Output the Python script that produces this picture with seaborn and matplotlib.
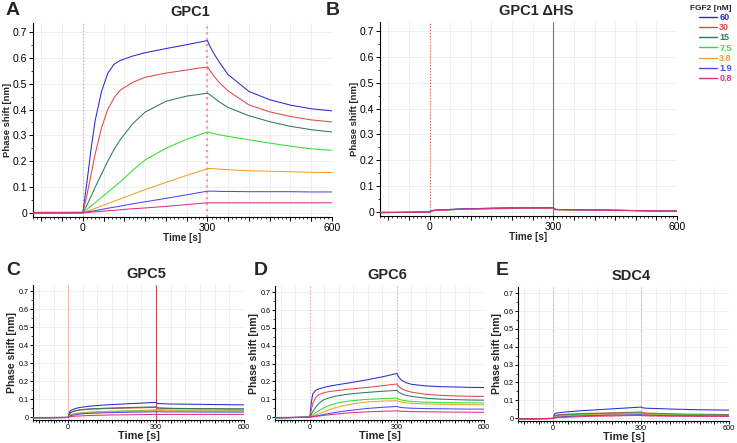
import numpy as np
import pandas as pd
import matplotlib
matplotlib.use("Agg")
import matplotlib.pyplot as plt
import matplotlib.ticker as mticker
from matplotlib.lines import Line2D
import seaborn as sns

# time grid shared by all sensorgrams (s)
time_s = [-120, -60, 0, 5, 10, 20, 30, 45, 60, 75, 90, 120, 150, 200, 250, 300,
          305, 315, 330, 350, 400, 450, 500, 550, 600]

conc_labels = ["60", "30", "15", "7.5", "3.8", "1.9", "0.8"]
conc_colors = ["#2b2bd0", "#e04848", "#2f7a5c", "#33dd33", "#f0a030", "#4a4af0", "#e0307a"]

# GPC1
gpc1 = {
    "60":  [0.002, 0.002, 0.002, 0.06, 0.12, 0.25, 0.36, 0.47, 0.54, 0.575, 0.59, 0.607, 0.62, 0.636, 0.651, 0.667,
            0.648, 0.618, 0.58, 0.535, 0.47, 0.438, 0.417, 0.403, 0.395],
    "30":  [0.001, 0.001, 0.002, 0.035, 0.07, 0.15, 0.23, 0.33, 0.40, 0.445, 0.475, 0.505, 0.525, 0.541, 0.553, 0.565,
            0.554, 0.53, 0.502, 0.472, 0.418, 0.391, 0.373, 0.36, 0.352],
    "15":  [0.0, 0.0, 0.001, 0.015, 0.03, 0.065, 0.10, 0.15, 0.20, 0.245, 0.283, 0.345, 0.39, 0.432, 0.452, 0.463,
            0.459, 0.446, 0.428, 0.408, 0.376, 0.353, 0.335, 0.322, 0.313],
    "7.5": [-0.003, -0.002, 0.0, 0.007, 0.013, 0.027, 0.04, 0.06, 0.08, 0.10, 0.12, 0.165, 0.205, 0.25, 0.285, 0.313,
            0.311, 0.307, 0.302, 0.296, 0.283, 0.27, 0.258, 0.248, 0.242],
    "3.8": [0.001, 0.001, 0.0, 0.003, 0.006, 0.012, 0.018, 0.027, 0.036, 0.045, 0.054, 0.072, 0.09, 0.118, 0.145, 0.171,
            0.172, 0.171, 0.169, 0.167, 0.163, 0.161, 0.159, 0.157, 0.156],
    "1.9": [0.0, 0.0, 0.0, 0.002, 0.003, 0.006, 0.009, 0.013, 0.018, 0.022, 0.026, 0.035, 0.043, 0.056, 0.07, 0.084,
            0.084, 0.084, 0.083, 0.083, 0.082, 0.082, 0.082, 0.081, 0.081],
    "0.8": [0.001, 0.001, 0.0, 0.001, 0.001, 0.003, 0.004, 0.006, 0.008, 0.010, 0.012, 0.016, 0.019, 0.025, 0.032, 0.039,
            0.039, 0.039, 0.039, 0.039, 0.039, 0.039, 0.039, 0.039, 0.039],
}

# GPC1 dHS
gpc1_dhs = {
    "60":  [-0.003, -0.002, 0.0, 0.005, 0.006, 0.007, 0.008, 0.009, 0.010, 0.011, 0.012, 0.013, 0.014, 0.015, 0.015, 0.017,
            0.010, 0.009, 0.009, 0.008, 0.007, 0.006, 0.005, 0.004, 0.004],
    "30":  [-0.003, -0.002, -0.001, 0.004, 0.005, 0.006, 0.007, 0.008, 0.009, 0.010, 0.011, 0.012, 0.013, 0.014, 0.014, 0.015,
            0.009, 0.009, 0.008, 0.008, 0.007, 0.006, 0.005, 0.004, 0.004],
    "15":  [-0.002, -0.002, 0.0, 0.004, 0.005, 0.006, 0.007, 0.008, 0.009, 0.010, 0.011, 0.012, 0.013, 0.014, 0.014, 0.015,
            0.009, 0.008, 0.008, 0.007, 0.006, 0.006, 0.005, 0.004, 0.004],
    "7.5": [-0.002, -0.002, 0.0, 0.004, 0.005, 0.006, 0.007, 0.008, 0.009, 0.010, 0.011, 0.012, 0.012, 0.013, 0.014, 0.014,
            0.009, 0.008, 0.008, 0.007, 0.006, 0.005, 0.005, 0.004, 0.004],
    "3.8": [-0.002, -0.002, 0.0, 0.004, 0.005, 0.006, 0.007, 0.008, 0.009, 0.010, 0.010, 0.011, 0.012, 0.013, 0.014, 0.014,
            0.008, 0.008, 0.007, 0.007, 0.006, 0.005, 0.005, 0.004, 0.004],
    "1.9": [-0.002, -0.002, 0.0, 0.005, 0.006, 0.007, 0.008, 0.009, 0.010, 0.011, 0.012, 0.013, 0.014, 0.015, 0.016, 0.016,
            0.010, 0.009, 0.009, 0.008, 0.007, 0.006, 0.005, 0.004, 0.004],
    "0.8": [-0.003, -0.002, -0.001, 0.004, 0.005, 0.006, 0.007, 0.008, 0.009, 0.010, 0.011, 0.012, 0.013, 0.014, 0.015, 0.015,
            0.009, 0.009, 0.008, 0.008, 0.007, 0.006, 0.005, 0.004, 0.003],
}

# GPC5
gpc5 = {
    "60":  [-0.005, -0.004, -0.002, 0.03, 0.038, 0.045, 0.05, 0.055, 0.058, 0.061, 0.063, 0.067, 0.07, 0.074, 0.078, 0.082,
            0.076, 0.075, 0.074, 0.073, 0.072, 0.071, 0.070, 0.069, 0.068],
    "30":  [-0.004, -0.003, -0.002, 0.018, 0.025, 0.032, 0.036, 0.040, 0.042, 0.044, 0.045, 0.047, 0.048, 0.050, 0.052, 0.054,
            0.050, 0.049, 0.049, 0.048, 0.047, 0.046, 0.046, 0.045, 0.045],
    "15":  [-0.004, -0.003, -0.002, 0.02, 0.027, 0.034, 0.038, 0.042, 0.044, 0.046, 0.047, 0.049, 0.051, 0.053, 0.055, 0.057,
            0.052, 0.051, 0.050, 0.049, 0.048, 0.047, 0.047, 0.046, 0.046],
    "7.5": [-0.004, -0.003, -0.002, 0.010, 0.014, 0.018, 0.021, 0.024, 0.026, 0.028, 0.029, 0.031, 0.033, 0.035, 0.037, 0.040,
            0.041, 0.041, 0.040, 0.040, 0.039, 0.039, 0.038, 0.038, 0.037],
    "3.8": [-0.003, -0.003, -0.002, 0.008, 0.012, 0.016, 0.019, 0.022, 0.024, 0.026, 0.027, 0.029, 0.031, 0.033, 0.034, 0.036,
            0.036, 0.036, 0.035, 0.035, 0.035, 0.034, 0.034, 0.034, 0.034],
    "1.9": [-0.003, -0.002, -0.001, 0.005, 0.009, 0.012, 0.015, 0.018, 0.020, 0.021, 0.022, 0.024, 0.025, 0.027, 0.028, 0.030,
            0.030, 0.030, 0.029, 0.029, 0.029, 0.028, 0.028, 0.028, 0.028],
    "0.8": [-0.002, -0.002, -0.001, 0.002, 0.003, 0.005, 0.006, 0.007, 0.008, 0.009, 0.010, 0.011, 0.012, 0.013, 0.014, 0.015,
            0.015, 0.015, 0.015, 0.015, 0.015, 0.015, 0.015, 0.015, 0.015],
}

# GPC6
gpc6 = {
    "60":  [-0.005, -0.003, 0.0, 0.08, 0.13, 0.15, 0.158, 0.165, 0.171, 0.176, 0.18, 0.188, 0.196, 0.21, 0.226, 0.245,
            0.228, 0.208, 0.194, 0.184, 0.175, 0.171, 0.169, 0.167, 0.166],
    "30":  [-0.004, -0.002, 0.0, 0.04, 0.075, 0.11, 0.125, 0.135, 0.141, 0.145, 0.148, 0.154, 0.159, 0.167, 0.176, 0.186,
            0.174, 0.16, 0.149, 0.14, 0.128, 0.122, 0.119, 0.117, 0.116],
    "15":  [-0.004, -0.002, 0.0, 0.015, 0.03, 0.055, 0.075, 0.095, 0.105, 0.112, 0.118, 0.126, 0.132, 0.139, 0.145, 0.15,
            0.142, 0.132, 0.123, 0.116, 0.106, 0.101, 0.098, 0.096, 0.095],
    "7.5": [-0.004, -0.002, 0.0, 0.006, 0.012, 0.025, 0.035, 0.05, 0.061, 0.07, 0.077, 0.087, 0.093, 0.1, 0.104, 0.107,
            0.101, 0.096, 0.092, 0.088, 0.084, 0.082, 0.081, 0.08, 0.079],
    "3.8": [-0.003, -0.002, 0.0, 0.003, 0.006, 0.012, 0.018, 0.028, 0.038, 0.046, 0.054, 0.066, 0.075, 0.085, 0.09, 0.092,
            0.088, 0.084, 0.08, 0.077, 0.074, 0.072, 0.071, 0.07, 0.069],
    "1.9": [-0.003, -0.002, 0.0, 0.002, 0.003, 0.006, 0.009, 0.014, 0.019, 0.023, 0.027, 0.034, 0.04, 0.049, 0.055, 0.06,
            0.057, 0.054, 0.052, 0.05, 0.048, 0.047, 0.046, 0.045, 0.045],
    "0.8": [-0.002, -0.001, 0.0, 0.001, 0.002, 0.004, 0.006, 0.009, 0.012, 0.015, 0.017, 0.022, 0.026, 0.03, 0.033, 0.035,
            0.034, 0.033, 0.032, 0.031, 0.03, 0.029, 0.028, 0.028, 0.027],
}

# SDC4
sdc4 = {
    "60":  [-0.007, -0.004, -0.002, 0.025, 0.028, 0.03, 0.032, 0.035, 0.037, 0.039, 0.041, 0.044, 0.047, 0.052, 0.057, 0.062,
            0.058, 0.056, 0.055, 0.054, 0.051, 0.049, 0.047, 0.046, 0.045],
    "30":  [-0.006, -0.004, -0.002, 0.015, 0.017, 0.019, 0.020, 0.022, 0.023, 0.024, 0.025, 0.027, 0.028, 0.030, 0.032, 0.035,
            0.031, 0.029, 0.028, 0.027, 0.025, 0.023, 0.022, 0.021, 0.020],
    "15":  [-0.006, -0.004, -0.002, 0.012, 0.014, 0.016, 0.017, 0.019, 0.020, 0.021, 0.022, 0.024, 0.025, 0.027, 0.028, 0.030,
            0.027, 0.025, 0.024, 0.023, 0.021, 0.020, 0.019, 0.018, 0.018],
    "7.5": [-0.005, -0.004, -0.002, 0.008, 0.010, 0.012, 0.013, 0.015, 0.016, 0.017, 0.018, 0.020, 0.022, 0.024, 0.026, 0.028,
            0.025, 0.023, 0.022, 0.021, 0.019, 0.018, 0.017, 0.016, 0.016],
    "3.8": [-0.005, -0.003, -0.002, 0.005, 0.007, 0.009, 0.010, 0.012, 0.013, 0.014, 0.015, 0.017, 0.019, 0.021, 0.023, 0.025,
            0.022, 0.020, 0.019, 0.018, 0.017, 0.016, 0.015, 0.014, 0.014],
    "1.9": [-0.004, -0.003, -0.001, 0.003, 0.004, 0.006, 0.007, 0.009, 0.010, 0.011, 0.012, 0.014, 0.015, 0.017, 0.018, 0.020,
            0.018, 0.017, 0.016, 0.015, 0.014, 0.013, 0.013, 0.012, 0.012],
    "0.8": [-0.004, -0.003, -0.001, 0.0, 0.002, 0.003, 0.004, 0.005, 0.006, 0.007, 0.008, 0.010, 0.011, 0.012, 0.014, 0.015,
            0.014, 0.013, 0.012, 0.012, 0.011, 0.011, 0.010, 0.010, 0.010],
}

panel_titles = ["GPC1", "GPC1 \u0394HS", "GPC5", "GPC6", "SDC4"]
panel_letters = ["A", "B", "C", "D", "E"]
panel_data = [gpc1, gpc1_dhs, gpc5, gpc6, sdc4]

sns.set_style("white")
plt.rcParams["font.family"] = ["Liberation Sans", "DejaVu Sans"]

W, H = 737, 443
fig = plt.figure(figsize=(W / 100, H / 100), dpi=100)

# axes boxes in pixels: left, top, right, bottom
boxes = [(33, 23, 332, 217), (380, 22, 677, 216),
         (33, 285, 244, 420), (275, 286, 484, 420), (518, 287, 729, 421)]
letter_pos = [(6, 2), (326, 2), (6, 262), (254, 262), (496, 262)]
# marker lines at association start / dissociation start
vline_styles = [
    [("#e8a0a0", ":", 0.9), ("#e8a0a0", ":", 1.6)],
    [("#e05050", ":", 0.8), ("#8a6a6a", "-", 0.8)],
    [("#f0b0b0", "-", 0.6), ("#d05050", "-", 0.8)],
    [("#f0a8a8", ":", 0.9), ("#a8d0c8", ":", 0.9)],
    [("#f0a8a8", "--", 0.6), ("#f0a8a8", "--", 0.6)],
]
palette = dict(zip(conc_labels, conc_colors))

for i, data in enumerate(panel_data):
    l, t, r, b = boxes[i]
    ax = fig.add_axes([l / W, 1 - b / H, (r - l) / W, (b - t) / H])
    top_row = i < 2
    tick_fs = 7.5 if top_row else 5.2
    lab_fs = 6.8 if top_row else 7.5
    tlen = 3 if top_row else 2

    rows = []
    for c in conc_labels:
        for ts, v in zip(time_s, data[c]):
            rows.append({"Time": ts, "Shift": v, "FGF2": c})
    df = pd.DataFrame(rows)

    for x0, (col, ls, lw) in zip([0, 300], vline_styles[i]):
        ax.axvline(x0, color=col, ls=ls, lw=lw, zorder=1)

    sns.lineplot(data=df, x="Time", y="Shift", hue="FGF2", hue_order=conc_labels,
                 palette=palette, ax=ax, legend=False, linewidth=0.75,
                 estimator=None, sort=False, zorder=3)

    ax.set_xlim(-120, 600)
    ax.set_ylim(-0.016, 0.735)
    ax.xaxis.set_major_locator(mticker.MultipleLocator(50))
    ax.xaxis.set_minor_locator(mticker.MultipleLocator(10))
    ax.xaxis.set_major_formatter(mticker.FuncFormatter(
        lambda v, p: f"{int(v)}" if int(round(v)) in (0, 300, 600) else ""))
    ax.yaxis.set_major_locator(mticker.MultipleLocator(0.1))
    ax.yaxis.set_minor_locator(mticker.MultipleLocator(0.05))
    ax.yaxis.set_major_formatter(mticker.FuncFormatter(lambda v, p: f"{v:.1f}" if v > 0.01 else "0"))
    ax.grid(True, which="major", color="#ececec", lw=0.6)
    ax.tick_params(axis="both", which="major", direction="out", length=tlen, width=0.7,
                   labelsize=tick_fs, pad=1, colors="black")
    ax.tick_params(axis="both", which="minor", direction="out", length=tlen * 0.6, width=0.6)
    ax.tick_params(axis="x", which="both", bottom=True)
    ax.tick_params(axis="y", which="both", left=True)
    for s in ["top", "right"]:
        ax.spines[s].set_visible(False)
    for s in ["left", "bottom"]:
        ax.spines[s].set_color("black")
        ax.spines[s].set_linewidth(0.8)

    ax.set_xlabel("Time [s]", fontsize=lab_fs + 0.4, fontweight="bold",
                  labelpad=0.5 if top_row else 0)
    ax.set_ylabel("Phase shift [nm]", fontsize=lab_fs, fontweight="bold", labelpad=1)
    # titles sit a little right of the axes centre in the original
    ax.set_title(panel_titles[i], fontsize=10.5, fontweight="bold", pad=5,
                 x=0.5 + 8 / (r - l))

    lx, ly = letter_pos[i]
    fig.text(lx / W, 1 - ly / H, panel_letters[i], fontsize=14, fontweight="bold",
             ha="left", va="top")

handles = [Line2D([], [], color=c, lw=1.0) for c in conc_colors]
leg = fig.legend(handles, conc_labels, loc="upper right", bbox_to_anchor=(0.998, 0.997),
                 frameon=False, title="FGF2 [nM]",
                 title_fontproperties={"weight": "bold", "size": 6},
                 prop={"weight": "bold", "size": 6.5}, labelcolor="linecolor",
                 handlelength=1.9, handletextpad=0.3, labelspacing=0.12,
                 borderaxespad=0.2, borderpad=0.2)
leg._legend_box.align = "right"
leg._legend_box.sep = 1

fig.savefig("out.png", dpi=100)
